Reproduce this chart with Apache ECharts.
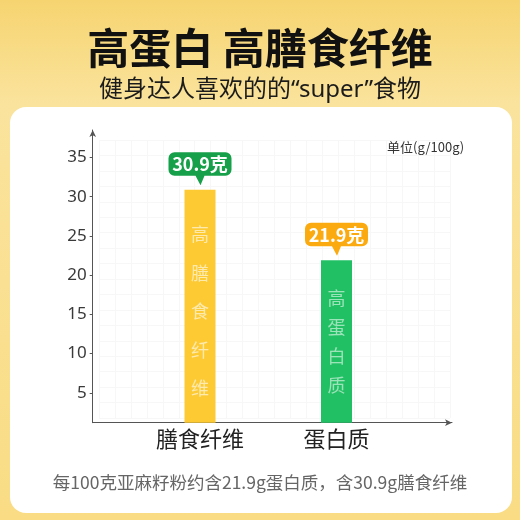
<!DOCTYPE html>
<html>
<head>
<meta charset="utf-8">
<script src="https://cdn.jsdelivr.net/npm/echarts@6/dist/echarts.min.js"></script>
<style>
html,body{margin:0;padding:0;background:#f8da80;}
#c{width:520px;height:520px;}
</style>
</head>
<body>
<div id="c"></div>
<script>
// ---- data ----
var categories = ['膳食纤维', '蛋白质'];
var values = [30.9, 21.9];
var bubbleTexts = ['30.9克', '21.9克'];
var barInnerTexts = [['高','膳','食','纤','维'], ['高','蛋','白','质']];
var yTicks = [5, 10, 15, 20, 25, 30, 35];
var titleText = '高蛋白 高膳食纤维';
var subtitleText = '健身达人喜欢的的“super”食物';
var unitText = '单位(g/100g)';
var footerText = '每100克亚麻籽粉约含21.9g蛋白质，含30.9g膳食纤维';

// ---- styles ----
var barColors = ['#fdca33', '#22c064'];
var bubbleColors = ['#17a04a', '#fbaa10'];
var innerTextColors = ['rgba(255,255,255,0.6)', 'rgba(255,255,255,0.55)'];
var innerLineHeights = [38.5, 29];
var innerOffsets = [[0, 5], [0, 0]];
var yMin = 1.2, yMax = 38.5;
var cjk = '"Noto Sans CJK SC", "Noto Sans", sans-serif';
var latinFirst = '"Noto Sans", "Noto Sans CJK SC", sans-serif';

var bubblePath = 'path://M6,0 H57 A6,6 0 0 1 63,6 V17.5 A6,6 0 0 1 57,23.5 H36 L32,33 L27,23.5 H6 A6,6 0 0 1 0,17.5 V6 A6,6 0 0 1 6,0 Z';

var chart = echarts.init(document.getElementById('c'), null, {renderer: 'canvas'});

var barData = values.map(function (v, i) {
  return {
    value: v,
    itemStyle: {color: barColors[i]},
    label: {
      show: true,
      position: 'inside',
      formatter: barInnerTexts[i].join('\n'),
      color: innerTextColors[i],
      fontSize: 18,
      lineHeight: innerLineHeights[i],
      fontFamily: cjk,
      offset: innerOffsets[i]
    }
  };
});

var markData = values.map(function (v, i) {
  return {
    coord: [categories[i], v],
    symbol: bubblePath,
    symbolSize: [63, 33],
    symbolOffset: [0, -21],
    itemStyle: {color: bubbleColors[i]},
    label: {
      show: true,
      formatter: bubbleTexts[i],
      color: '#fff',
      fontSize: 18,
      fontWeight: 'bold',
      fontFamily: cjk,
      offset: [0, -4.5]
    }
  };
});

var option = {
  animation: false,
  backgroundColor: 'transparent',
  graphic: [
    {
      type: 'rect', z: -10, silent: true,
      shape: {x: 0, y: 0, width: 520, height: 520},
      style: {
        fill: new echarts.graphic.LinearGradient(0, 0, 0, 1, [
          {offset: 0, color: '#f6d470'},
          {offset: 0.2, color: '#fae39d'},
          {offset: 1, color: '#f9dc84'}
        ])
      }
    },
    {
      type: 'rect', z: -9, silent: true,
      shape: {x: 10, y: 107, width: 502, height: 406, r: 16},
      style: {fill: '#ffffff'}
    }
  ],
  title: [
    {text: titleText, left: 'center', top: 22,
     textStyle: {fontSize: 42, fontWeight: 'bold', color: '#111', fontFamily: cjk}},
    {text: subtitleText, left: 'center', top: 73,
     textStyle: {fontSize: 24, fontWeight: 'normal', color: '#1b1b1b', fontFamily: latinFirst}},
    {text: unitText, left: 382, top: 136,
     textStyle: {fontSize: 13, fontWeight: 'normal', color: '#333', fontFamily: cjk}},
    {text: footerText, left: 'center', top: 469,
     textStyle: {fontSize: 17.5, fontWeight: 'normal', color: '#666', fontFamily: cjk}}
  ],
  grid: [
    {left: 99, right: 70, top: 140, bottom: 102, containLabel: false},
    {left: 92.7, right: 68, top: 130, bottom: 97.3, containLabel: false},
    {left: 131.75, right: 115.25, top: 130, bottom: 97.3, containLabel: false}
  ],
  xAxis: [
    {gridIndex: 0, type: 'value', min: 0, max: 22, interval: 1, show: true,
     axisLine: {show: false}, axisTick: {show: false}, axisLabel: {show: false},
     splitLine: {show: true, lineStyle: {color: '#f7f7f7', width: 1}}},
    {gridIndex: 1, type: 'value', min: 0, max: 1,
     axisLine: {show: true, onZero: false, symbol: ['none', 'arrow'], symbolSize: [5, 7],
                lineStyle: {color: '#555', width: 1}},
     axisTick: {show: false}, axisLabel: {show: false}, splitLine: {show: false}},
    {gridIndex: 2, type: 'category', data: categories,
     axisLine: {show: false}, axisTick: {show: false},
     axisLabel: {show: true, fontSize: 22, color: '#222', margin: 5, fontFamily: cjk}}
  ],
  yAxis: [
    {gridIndex: 0, type: 'value', min: 0, max: 18, interval: 1,
     axisLine: {show: false}, axisTick: {show: false}, axisLabel: {show: false},
     splitLine: {show: true, lineStyle: {color: '#f7f7f7', width: 1}}},
    {gridIndex: 1, type: 'value', min: yMin, max: yMax,
     axisLine: {show: true, onZero: false, symbol: ['none', 'arrow'], symbolSize: [5, 7],
                lineStyle: {color: '#555', width: 1}},
     axisTick: {show: true, length: 3, customValues: yTicks, lineStyle: {color: '#555'}},
     axisLabel: {show: true, customValues: yTicks, fontSize: 17, color: '#3a3a3a',
                 margin: 6, fontFamily: '"Noto Sans", sans-serif'},
     splitLine: {show: false}},
    {gridIndex: 2, type: 'value', min: yMin, max: yMax, show: false}
  ],
  series: [
    {
      type: 'bar', xAxisIndex: 2, yAxisIndex: 2,
      barWidth: 31,
      data: barData,
      markPoint: {data: markData}
    }
  ]
};
chart.setOption(option);
</script>
</body>
</html>
